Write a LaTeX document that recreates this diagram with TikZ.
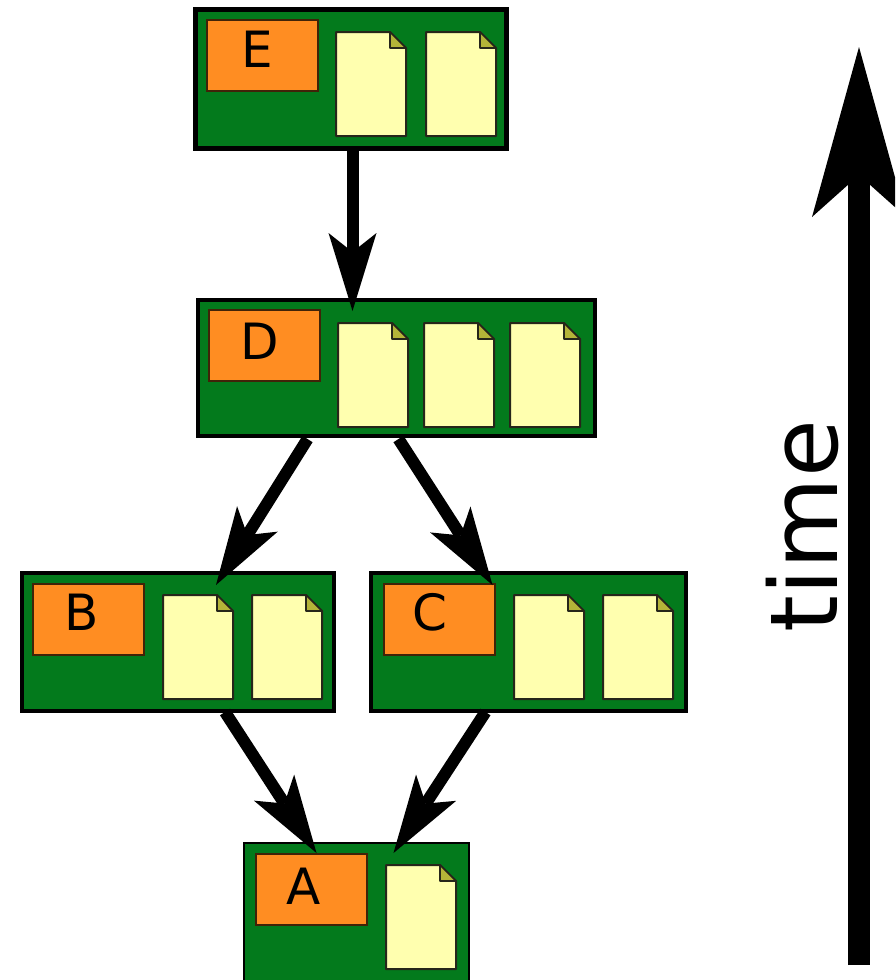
\documentclass[tikz,border=0pt]{standalone}
\usepackage{fontspec}
\setmainfont{DejaVu Sans}
\usetikzlibrary{arrows.meta}
\definecolor{boxgreen}{HTML}{037A1C}
\definecolor{taborange}{HTML}{FF8D22}
\definecolor{pageyellow}{HTML}{FFFFAF}
\definecolor{foldolive}{HTML}{B4B438}
\tikzset{
  x=1pt,y=-1pt,
  commitbox/.style={draw=black,fill=boxgreen,line width=#1,inner sep=0pt,outer sep=0pt},
  commitbox/.default=4.5pt,
  tagbox/.style={draw=black!75!taborange,fill=taborange,line width=2pt,inner sep=0pt,outer sep=0pt,minimum width=111pt,minimum height=71pt},
  letter/.style={inner sep=0pt,outer sep=0pt,font=\fontsize{50}{50}\selectfont,text=black},
  conn/.style={line width=12pt,draw=black,-{Stealth[length=78pt,width=48pt,inset=19pt,line width=0pt]}},
  timeline/.style={line width=22pt,draw=black,-{Stealth[length=170pt,width=94pt,inset=42pt,line width=0pt]}},
  pics/docpage/.style={code={
    \path[draw=black!85!pageyellow,fill=pageyellow,line width=2pt,line join=round]
      (0,0) -- (54,0) -- (70,16) -- (70,104) -- (0,104) -- cycle;
    \path[draw=black!85!pageyellow,fill=foldolive,line width=1.6pt,line join=round]
      (54,0) -- (70,16) -- (54,16) -- cycle;
  }}
}
\begin{document}
\begin{tikzpicture}
\clip (0,0) rectangle (895,980);
% commit boxes
\node[commitbox=5.5pt,minimum width=311pt,minimum height=139pt] (E) at (351,79) {};
\node[commitbox,minimum width=397pt,minimum height=136pt] (D) at (396.5,368) {};
\node[commitbox,minimum width=312pt,minimum height=138pt] (B) at (178,642) {};
\node[commitbox,minimum width=315pt,minimum height=138pt] (C) at (528.5,642) {};
\node[commitbox=2.5pt,minimum width=225pt,minimum height=138pt] (A) at (356.5,912) {};
% tags
\node[tagbox] (tagE) at (262.5,55) {};
\node[tagbox] (tagD) at (264,345) {};
\node[tagbox] (tagB) at (88.5,619) {};
\node[tagbox] (tagC) at (439.5,619) {};
\node[tagbox] (tagA) at (311,889) {};
% letters
\node[letter] (lE) at (257,49) {E};
\node[letter] (lD) at (260,341) {D};
\node[letter] (lB) at (82,612) {B};
\node[letter] (lC) at (430,612) {C};
\node[letter] (lA) at (304,886) {A};
% pages
\pic (pE1) at (336,32) {docpage};
\pic (pE2) at (426,32) {docpage};
\pic (pD1) at (338,323) {docpage};
\pic (pD2) at (424,323) {docpage};
\pic (pD3) at (510,323) {docpage};
\pic (pB1) at (163,595) {docpage};
\pic (pB2) at (252,595) {docpage};
\pic (pC1) at (514,595) {docpage};
\pic (pC2) at (603,595) {docpage};
\pic (pA1) at (386,865) {docpage};
% connectors
\draw[conn] ([xshift=1.5pt]E.south) -- ([xshift=1.5pt,yshift=-11pt]D.north -| E.south);
\draw[conn] ([xshift=-89pt,yshift=-3pt]D.south) -- ([xshift=38pt,yshift=-12pt]B.north);
\draw[conn] ([xshift=2pt,yshift=-3pt]D.south) -- ([xshift=-36pt,yshift=-12pt]C.north);
\draw[conn] ([xshift=47pt,yshift=-1pt]B.south) -- ([xshift=-40pt,yshift=-10pt]A.north);
\draw[conn] ([xshift=-43pt,yshift=-1pt]C.south) -- ([xshift=37pt,yshift=-10pt]A.north);
% time
\coordinate (tstart) at (859,965);
\coordinate (tend) at (859,47);
\draw[timeline] (tstart) -- (tend);
\node[rotate=90,inner sep=0pt,font=\fontsize{94}{94}\selectfont,text=black] (timelabel) at (802,526) {time};
\end{tikzpicture}
\end{document}
